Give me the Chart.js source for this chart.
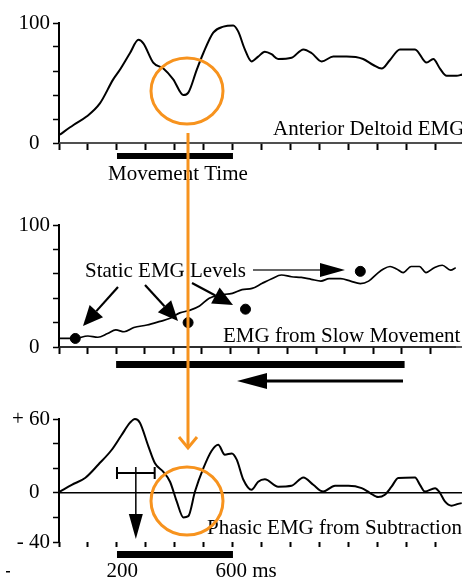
<!DOCTYPE html>
<html lang="en">
<head>
    <meta charset="UTF-8">
    <title>Anterior Deltoid EMG</title>
    <style>
        body {
            margin: 0;
            background-color: #fff;
        }

        #wrap {
            position: relative;
            width: 462px;
            height: 579px;
        }

        #wrap canvas {
            position: absolute;
            left: 0;
            top: 0;
        }
    </style>
</head>
<body>
    <div id="wrap">
        <canvas id="deltoid" width="462" height="579"></canvas>
        <canvas id="slow" width="462" height="579"></canvas>
        <canvas id="phasic" width="462" height="579"></canvas>
    </div>

    <script src="https://cdn.jsdelivr.net/npm/chart.js"></script>

    <script>
        // time axis (ms), shared by all three panels
        const xMax = 1390;
        const xTickMs = [0, 100, 200, 300, 400, 500, 600, 700, 800, 900, 1000, 1100, 1200, 1300];
        const xLabelValues = [200, 600];
        const xLabelTexts = ['\u2002200', '\u00a0\u00a0\u00a0\u00a0\u00a0600 ms'];

        // top panel: anterior deltoid EMG (% of max)
        const deltoidMs = [3, 50, 95, 141, 187, 210, 245, 274, 291, 325, 360, 394, 429, 446, 475, 498, 532, 567, 601, 618, 641, 664, 687, 710, 733, 756, 802, 843, 871, 906, 946, 992, 1049, 1084, 1113, 1141, 1176, 1228, 1268, 1291, 1314, 1337, 1371, 1390];
        const deltoidPct = [7, 15, 22, 33, 53, 61, 75, 86, 83, 67, 62, 53, 40, 42, 61, 75, 92, 97, 98, 93, 78, 68, 72, 76, 74, 70, 71, 78, 75, 68, 72, 72, 70, 65, 62, 69, 78, 78, 67, 70, 62, 56, 56, 57];
        const movementMs = [200, 600];

        // middle panel: EMG from slow movement + static levels
        const slowMs = [0, 9, 55, 101, 136, 170, 199, 228, 262, 308, 354, 389, 423, 457, 492, 526, 561, 607, 641, 676, 710, 745, 779, 814, 848, 883, 917, 946, 986, 1021, 1055, 1084, 1113, 1136, 1159, 1182, 1205, 1233, 1262, 1285, 1314, 1342, 1371, 1389];
        const slowPct = [7, 7, 7, 9, 8, 11, 14, 12.5, 16, 18, 21, 23.5, 28, 30, 33.6, 40, 42.6, 44, 47, 48, 52, 56, 59, 57.6, 57, 55.5, 54, 56, 56, 54, 52, 54, 60, 64, 66, 64, 61, 66, 66, 61, 65, 67, 63, 65];
        const staticMs = [57, 452, 653, 1055];
        const staticPct = [7, 20, 31, 62];
        const slowMoveMs = [200, 1210];

        // bottom panel: phasic EMG (deltoid minus slow)
        const phasicMs = [3, 44, 90, 136, 182, 216, 245, 262, 279, 308, 331, 360, 383, 406, 429, 446, 469, 498, 526, 549, 572, 596, 613, 636, 664, 687, 710, 756, 802, 843, 877, 911, 952, 998, 1044, 1072, 1101, 1124, 1147, 1170, 1228, 1245, 1262, 1297, 1314, 1331, 1354, 1377, 1389];
        const phasicVal = [1, 6.5, 12, 23, 35, 47, 57, 60, 57, 38, 24, 17, 9, -7, -20, -19, 1, 20, 34, 39, 31, 32, 27, 10.6, 2.4, 9, 11, 5, 5.7, 12.5, 6.5, 1, 5.7, 5.7, 3.8, 0, -3.5, -1.6, 5, 12, 12.5, 6.5, 1, 3.8, 0, -7, -10.5, -9, -8.4];
        const onsetMs = [200, 330];

        // y tick labels
        const pctTickValues = [0, 100];
        const pctTickTexts = ['0\u2002', '100'];
        const phasicTickValues = [-40, 0, 60];
        const phasicTickTexts = ['- 40', '0\u2002', '+ 60'];

        const SERIF = '"Liberation Serif", "Times New Roman", serif';
        const ORANGE = '#f7931e';
        Chart.defaults.font.family = SERIF;
        Chart.defaults.font.size = 21;
        Chart.defaults.color = '#000';
        Chart.defaults.animation = false;

        function toPoints(xs, ys) {
            return xs.map((x, i) => ({ x: x, y: ys[i] }));
        }

        function pickLabel(values, texts) {
            return v => {
                const i = values.indexOf(v);
                return i < 0 ? '' : texts[i];
            };
        }

        function xAxis(height, tickLen, labelValues, labelTexts) {
            return {
                type: 'linear',
                min: 0,
                max: xMax,
                afterFit: s => { s.height = height; },
                // one tick every 100 ms, whatever the range
                afterBuildTicks: s => { s.ticks = xTickMs.map(v => ({ value: v })); },
                border: { display: false },
                grid: { drawOnChartArea: false, tickLength: tickLen, tickWidth: 2, tickColor: '#000' },
                ticks: { autoSkip: false, maxRotation: 0, padding: 12, callback: pickLabel(labelValues, labelTexts) }
            };
        }

        function yAxis(min, max, labelValues, labelTexts) {
            return {
                type: 'linear',
                min: min,
                max: max,
                afterFit: s => { s.width = 59; },
                border: { color: '#000', width: 2 },
                grid: { drawOnChartArea: false, tickLength: 6, tickWidth: 1.5, tickColor: '#000' },
                ticks: { stepSize: 20, autoSkip: false, padding: 3, callback: pickLabel(labelValues, labelTexts) }
            };
        }

        function curve(points, width) {
            return {
                data: points,
                borderColor: '#000',
                borderWidth: width,
                pointRadius: 0,
                cubicInterpolationMode: 'monotone',
                fill: false,
                clip: false
            };
        }

        function hline(ctx, x0, x1, y, color, width) {
            ctx.save();
            ctx.strokeStyle = color;
            ctx.lineWidth = width;
            ctx.setLineDash([]);
            ctx.globalAlpha = 1;
            ctx.beginPath();
            ctx.moveTo(x0, y);
            ctx.lineTo(x1, y);
            ctx.stroke();
            ctx.restore();
        }

        function arrow(ctx, x0, y0, x1, y1, head, half, width) {
            const a = Math.atan2(y1 - y0, x1 - x0);
            const bx = x1 - head * Math.cos(a), by = y1 - head * Math.sin(a);
            ctx.lineWidth = width;
            ctx.beginPath();
            ctx.moveTo(x0, y0);
            ctx.lineTo(bx, by);
            ctx.stroke();
            ctx.beginPath();
            ctx.moveTo(x1, y1);
            ctx.lineTo(bx + half * Math.sin(a), by - half * Math.cos(a));
            ctx.lineTo(bx - half * Math.sin(a), by + half * Math.cos(a));
            ctx.closePath();
            ctx.fill();
        }

        function baseOptions(top, xHeight, xTick, xLabelV, xLabelT, y) {
            return {
                responsive: false,
                layout: { padding: { top: top, left: 0, right: 0, bottom: 0 } },
                plugins: { legend: { display: false }, tooltip: { enabled: false } },
                scales: { x: xAxis(xHeight, xTick, xLabelV, xLabelT), y: y }
            };
        }

        // top panel
        const deltoidChart = new Chart(document.getElementById('deltoid'), {
            type: 'line',
            data: { datasets: [curve(toPoints(deltoidMs, deltoidPct), 2)] },
            options: baseOptions(23, 579 - 143, 7, [], [], yAxis(0, 100, pctTickValues, pctTickTexts)),
            plugins: [{
                id: 'deltoidNotes',
                afterDraw(chart) {
                    const ctx = chart.ctx, xs = chart.scales.x, area = chart.chartArea;
                    hline(ctx, area.left, area.right, chart.scales.y.getPixelForValue(0), '#444', 1.6);
                    ctx.save();
                    ctx.fillStyle = '#000';
                    ctx.font = '21px ' + SERIF;
                    ctx.fillText('Anterior Deltoid EMG', 273, 135);
                    const x0 = xs.getPixelForValue(movementMs[0]), x1 = xs.getPixelForValue(movementMs[1]);
                    ctx.fillRect(x0, 153, x1 - x0, 6);
                    ctx.fillText('Movement Time', 108, 180);
                    ctx.restore();
                }
            }]
        });

        // middle panel
        const slowChart = new Chart(document.getElementById('slow'), {
            type: 'line',
            data: {
                datasets: [
                    curve(toPoints(slowMs, slowPct), 1.7),
                    {
                        type: 'scatter',
                        data: toPoints(staticMs, staticPct),
                        backgroundColor: '#000',
                        borderColor: '#000',
                        pointRadius: 5,
                        showLine: false,
                        clip: false
                    }
                ]
            },
            options: baseOptions(225, 579 - 347, 7, [], [], yAxis(0, 100, pctTickValues, pctTickTexts)),
            plugins: [{
                id: 'slowNotes',
                afterDraw(chart) {
                    const ctx = chart.ctx, xs = chart.scales.x, area = chart.chartArea;
                    hline(ctx, area.left, area.right, chart.scales.y.getPixelForValue(0), '#222', 1.6);
                    ctx.save();
                    ctx.fillStyle = '#000';
                    ctx.strokeStyle = '#000';
                    ctx.font = '21px ' + SERIF;
                    ctx.fillText('Static EMG Levels', 85, 277);
                    ctx.fillText('EMG from Slow Movement', 223, 342);
                    arrow(ctx, 118, 287, 83, 326, 20, 9, 2.2);
                    arrow(ctx, 145, 285, 178, 321, 20, 9, 2.2);
                    arrow(ctx, 192, 283, 233, 305, 20, 9, 2.2);
                    ctx.strokeStyle = '#333';
                    arrow(ctx, 253, 270, 345, 270, 25, 7, 1.5);
                    ctx.strokeStyle = '#000';
                    const x0 = xs.getPixelForValue(slowMoveMs[0]), x1 = xs.getPixelForValue(slowMoveMs[1]);
                    ctx.fillRect(x0, 361, x1 - x0, 7);
                    arrow(ctx, 403, 381, 237, 381, 30, 8, 3);
                    ctx.restore();
                }
            }]
        });

        // bottom panel
        new Chart(document.getElementById('phasic'), {
            type: 'line',
            data: { datasets: [curve(toPoints(phasicMs, phasicVal), 2)] },
            options: baseOptions(419, 579 - 542, 5, xLabelValues, xLabelTexts, yAxis(-40, 60, phasicTickValues, phasicTickTexts)),
            plugins: [{
                id: 'phasicNotes',
                afterDraw(chart) {
                    const ctx = chart.ctx, xs = chart.scales.x, area = chart.chartArea;
                    // baselines of the two upper panels, repeated on the top canvas
                    hline(ctx, area.left, area.right, deltoidChart.chartArea.bottom, '#444', 1.6);
                    hline(ctx, area.left, area.right, slowChart.chartArea.bottom, '#222', 1.6);
                    hline(ctx, area.left, area.right, chart.scales.y.getPixelForValue(0), '#000', 1.4);

                    ctx.save();
                    ctx.fillStyle = '#000';
                    ctx.strokeStyle = '#000';
                    ctx.font = '21px ' + SERIF;
                    ctx.fillText('Phasic EMG from Subtraction', 207, 534);

                    // onset range with arrow
                    const e0 = xs.getPixelForValue(onsetMs[0]), e1 = xs.getPixelForValue(onsetMs[1]);
                    const em = (e0 + e1) / 2;
                    ctx.lineWidth = 2;
                    ctx.beginPath();
                    ctx.moveTo(e0, 473); ctx.lineTo(e1, 473);
                    ctx.moveTo(e0, 467); ctx.lineTo(e0, 479);
                    ctx.moveTo(e1, 467); ctx.lineTo(e1, 479);
                    ctx.stroke();
                    arrow(ctx, em, 467, em, 539, 25, 7, 1.5);

                    const x0 = xs.getPixelForValue(movementMs[0]), x1 = xs.getPixelForValue(movementMs[1]);
                    ctx.fillRect(x0, 551, x1 - x0, 7);
                    ctx.fillRect(6, 571, 4, 1.5);

                    // orange highlight linking the two dips
                    ctx.strokeStyle = ORANGE;
                    ctx.lineWidth = 3;
                    ctx.beginPath();
                    ctx.ellipse(187, 91, 36, 33, 0, 0, Math.PI * 2);
                    ctx.stroke();
                    ctx.beginPath();
                    ctx.ellipse(187, 501, 36, 34, 0, 0, Math.PI * 2);
                    ctx.stroke();
                    ctx.beginPath();
                    ctx.moveTo(188, 133);
                    ctx.lineTo(188, 448);
                    ctx.stroke();
                    ctx.lineJoin = 'miter';
                    ctx.beginPath();
                    ctx.moveTo(179, 437);
                    ctx.lineTo(188, 448);
                    ctx.lineTo(197, 437);
                    ctx.stroke();
                    ctx.restore();
                }
            }]
        });
    </script>
</body>
</html>
